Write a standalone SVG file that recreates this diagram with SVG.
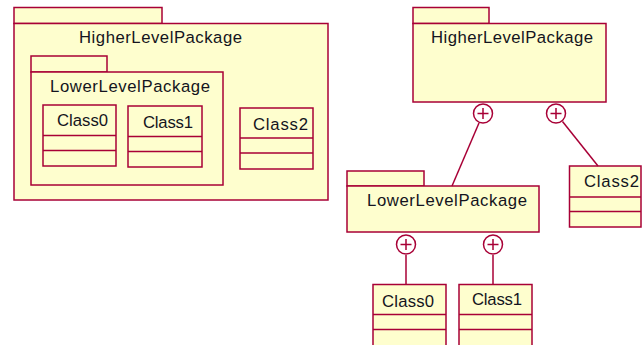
<svg xmlns="http://www.w3.org/2000/svg" width="644" height="345" viewBox="0 0 644 345">
  <style>
    .shape { fill: #FEFECE; stroke: #A80036; stroke-width: 1.5; }
    .div { stroke: #A80036; stroke-width: 1.5; fill: none; }
    .lbl { font-family: "Liberation Sans", Arial, sans-serif; font-size: 16.7px; fill: #141420; }
    .conn { stroke: #A80036; stroke-width: 1.5; fill: none; }
    .nest { fill: #FFFFFF; stroke: #A80036; stroke-width: 1.5; }
  </style>
  <rect width="644" height="345" fill="#FFFFFF"/>

  <!-- Nested view -->
  <g id="pkg-higher-nested">
    <rect class="shape" x="14" y="7.5" width="148" height="16"/>
    <rect class="shape" x="14" y="23.5" width="314" height="176.5"/>
    <text class="lbl" x="79" y="43" textLength="163" lengthAdjust="spacing">HigherLevelPackage</text>
  </g>
  <g id="pkg-lower-nested">
    <rect class="shape" x="31" y="56" width="76" height="16"/>
    <rect class="shape" x="31" y="72" width="192" height="113"/>
    <text class="lbl" x="50" y="92" textLength="160" lengthAdjust="spacing">LowerLevelPackage</text>
  </g>
  <g id="class0-nested">
    <rect class="shape" x="43" y="105" width="73" height="61"/>
    <path class="div" d="M43 135.5H116M43 150.5H116"/>
    <text class="lbl" x="57" y="126" textLength="51" lengthAdjust="spacing">Class0</text>
  </g>
  <g id="class1-nested">
    <rect class="shape" x="128" y="106" width="74" height="61"/>
    <path class="div" d="M128 136.5H202M128 151.5H202"/>
    <text class="lbl" x="143" y="128" textLength="50" lengthAdjust="spacing">Class1</text>
  </g>
  <g id="class2-nested">
    <rect class="shape" x="240" y="108" width="73" height="61"/>
    <path class="div" d="M240 138H313M240 153H313"/>
    <text class="lbl" x="253" y="129.5" textLength="55" lengthAdjust="spacing">Class2</text>
  </g>

  <!-- Containment tree view -->
  <g id="pkg-higher">
    <rect class="shape" x="413" y="7.5" width="76" height="16"/>
    <rect class="shape" x="413" y="23.5" width="193" height="78.5"/>
    <text class="lbl" x="431" y="43" textLength="162" lengthAdjust="spacing">HigherLevelPackage</text>
  </g>
  <g id="pkg-lower">
    <rect class="shape" x="347" y="171" width="77" height="15"/>
    <rect class="shape" x="347" y="186" width="192" height="46"/>
    <text class="lbl" x="367" y="206" textLength="160" lengthAdjust="spacing">LowerLevelPackage</text>
  </g>
  <g id="class2">
    <rect class="shape" x="569.5" y="166" width="71.5" height="61"/>
    <path class="div" d="M569.5 197H641M569.5 211.5H641"/>
    <text class="lbl" x="584" y="187" textLength="55" lengthAdjust="spacing">Class2</text>
  </g>
  <g id="class0">
    <rect class="shape" x="373" y="284.5" width="73" height="80"/>
    <path class="div" d="M373 314.5H446M373 329.5H446"/>
    <text class="lbl" x="382" y="307" textLength="52" lengthAdjust="spacing">Class0</text>
  </g>
  <g id="class1">
    <rect class="shape" x="459" y="284.5" width="73" height="80"/>
    <path class="div" d="M459 314.5H532M459 329.5H532"/>
    <text class="lbl" x="472" y="304.5" textLength="50" lengthAdjust="spacing">Class1</text>
  </g>

  <!-- Containment connectors with nesting (+) ends -->
  <g id="connectors">
    <line class="conn" x1="479" y1="123" x2="452" y2="186"/>
    <circle class="nest" cx="483" cy="113.5" r="9.5"/>
    <path class="conn" d="M477.5 113.5H488.5M483 108V119"/>

    <line class="conn" x1="562.5" y1="121.5" x2="598" y2="166"/>
    <circle class="nest" cx="556" cy="113.5" r="9.5"/>
    <path class="conn" d="M550.5 113.5H561.5M556 108V119"/>

    <line class="conn" x1="406" y1="255" x2="406" y2="284.5"/>
    <circle class="nest" cx="406" cy="244.5" r="9.5"/>
    <path class="conn" d="M400.5 244.5H411.5M406 239V250"/>

    <line class="conn" x1="493" y1="255" x2="493" y2="284.5"/>
    <circle class="nest" cx="493" cy="244.5" r="9.5"/>
    <path class="conn" d="M487.5 244.5H498.5M493 239V250"/>
  </g>
</svg>
